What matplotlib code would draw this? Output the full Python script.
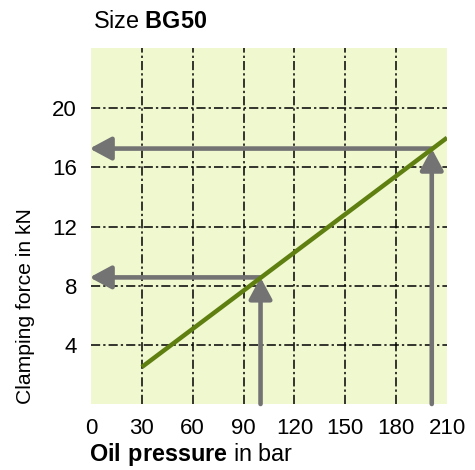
import matplotlib
matplotlib.use("Agg")
import matplotlib.pyplot as plt
from matplotlib.patches import FancyArrowPatch

plt.rcParams['font.family'] = ['Liberation Sans', 'DejaVu Sans']
plt.rcParams['mathtext.fontset'] = 'custom'
plt.rcParams['mathtext.rm'] = 'Liberation Sans'
plt.rcParams['mathtext.bf'] = 'Liberation Sans:bold'

# characteristic line of size BG50
pressure = [30, 210]
force = [2.5, 18]

# reading examples (oil pressure -> clamping force)
read_pressure = [100, 201]
read_force = [8.56, 17.27]

xticks = [0, 30, 60, 90, 120, 150, 180, 210]
yticks = [4, 8, 12, 16, 20]

fig = plt.figure(figsize=(4.75, 4.70), dpi=100)
ax = fig.add_axes([0.1916, 0.1404, 0.7495, 0.7575])
ax.set_facecolor('#f0f8d0')
ax.set_xlim(0, 210)
ax.set_ylim(0, 24.07)

for s in ax.spines.values():
    s.set_visible(False)

grid_style = dict(color='black', lw=1.1, ls=(0, (6, 2, 1.5, 2)), zorder=1)
for x in xticks[1:-1]:
    ax.axvline(x, **grid_style)
for y in yticks:
    ax.axhline(y, **grid_style)

ax.plot(pressure, force, color='#5f7f10', lw=3.2, zorder=4, solid_capstyle='butt')

gray = '#737373'
for p, f in zip(read_pressure, read_force):
    up = FancyArrowPatch((p, 0), (p, f), arrowstyle='-|>,head_length=13,head_width=7',
                         mutation_scale=1, color=gray, lw=3.3, shrinkA=0, shrinkB=0,
                         zorder=3, clip_on=False)
    ax.add_patch(up)
    left = FancyArrowPatch((p, f), (-0.8, f), arrowstyle='-|>,head_length=13,head_width=7',
                           mutation_scale=1, color=gray, lw=3.3, shrinkA=0, shrinkB=0,
                           zorder=3, clip_on=False)
    ax.add_patch(left)

ax.set_xticks(xticks)
ax.set_yticks(yticks)
ax.tick_params(length=0, labelsize=16, pad=10)

ax.set_ylabel('Clamping force in kN', fontsize=15.2)
ax.yaxis.set_label_coords(-0.158, 0.275)

fig.text(89 / 475, 1 - 455 / 470, r'$\bf{Oil\ pressure}$ in bar', fontsize=16.8, va='center', ha='left')
fig.text(93 / 475, 1 - 22 / 470, r'Size $\bf{BG50}$', fontsize=16.8, va='center', ha='left')

fig.savefig('out.png', dpi=100)
